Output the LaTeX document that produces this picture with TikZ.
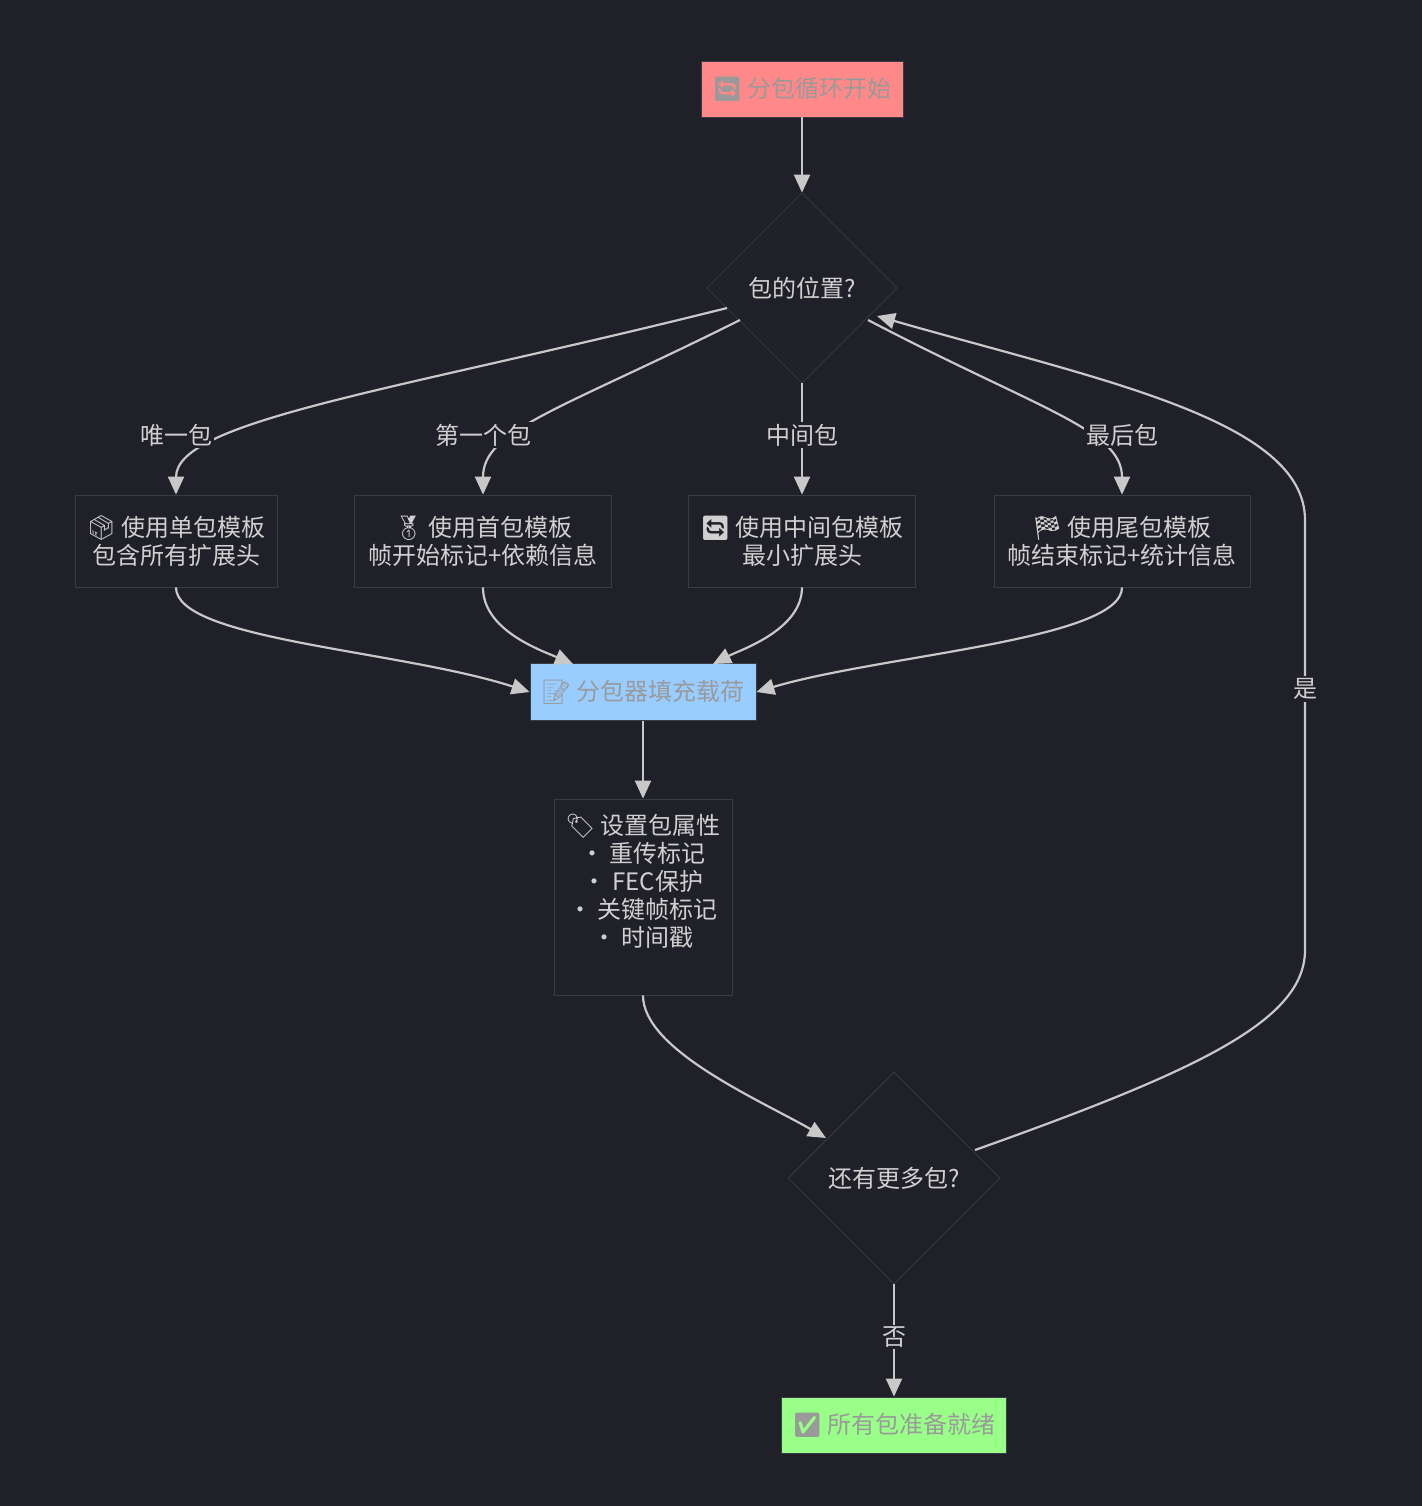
\documentclass[tikz,border=0pt]{standalone}
\usepackage{fontspec}
\setmainfont{Noto Sans CJK SC}
\newfontfamily\emoji{Noto Emoji}
\usetikzlibrary{arrows.meta,shapes.geometric}
\definecolor{bg}{HTML}{1F2028}
\definecolor{bd}{HTML}{3A3C44}
\definecolor{ln}{HTML}{C8C8C8}
\definecolor{tx}{HTML}{D0D0D0}
\definecolor{ctx}{HTML}{9A9A9A}
\tikzset{
 box/.style={draw=bd,fill=bg,text=tx,align=center,inner sep=0pt,font=\fontsize{12}{14}\selectfont},
 cbox/.style={draw=bd,text=ctx,align=center,inner sep=0pt,font=\fontsize{12}{14}\selectfont},
 dia/.style={diamond,draw=bd,fill=bg,text=tx,inner sep=0pt,font=\fontsize{12}{14}\selectfont},
 conn/.style={draw=ln,line width=1.1pt,-{Triangle[length=9pt,width=8pt]}},
 lab/.style={fill=bg,text=tx,inner sep=1pt,font=\fontsize{12}{14}\selectfont},
}
\begin{document}
\begin{tikzpicture}[x=0.5pt,y=-0.5pt]
\fill[bg] (0,0) rectangle (1422,1506);
\useasboundingbox (0,0) rectangle (1422,1506);
\node[cbox,fill={rgb,255:red,255;green,136;blue,136},minimum width=101pt,minimum height=28pt] (s) at (802,89) {{\emoji 🔄} 分包循环开始};
\node[dia,minimum width=95pt,minimum height=95pt] (d1) at (802,288) {包的位置?};
\node[box,minimum width=101pt,minimum height=46pt] (b1) at (176,541) {{\emoji 📦} 使用单包模板\\包含所有扩展头};
\node[box,minimum width=128.5pt,minimum height=46pt] (b2) at (483,541) {{\emoji 🥇} 使用首包模板\\帧开始标记+依赖信息};
\node[box,minimum width=113.5pt,minimum height=46pt] (b3) at (802,541) {{\emoji 🔄} 使用中间包模板\\最小扩展头};
\node[box,minimum width=128pt,minimum height=46pt] (b4) at (1122,541) {{\emoji 🏁} 使用尾包模板\\帧结束标记+统计信息};
\node[cbox,fill={rgb,255:red,153;green,204;blue,255},minimum width=113pt,minimum height=28.5pt] (f) at (643,692) {{\emoji 📝} 分包器填充载荷};
\node[box,minimum width=89pt,minimum height=98pt] (a) at (643,897) {};
\node[text=tx,align=center,font=\fontsize{12}{14}\selectfont,anchor=north] (at) at (643,807) {{\emoji 🏷} 设置包属性\\• 重传标记\\• FEC保护\\• 关键帧标记\\• 时间戳};
\node[dia,minimum width=106pt,minimum height=106pt] (d2) at (894,1178) {还有更多包?};
\node[cbox,fill={rgb,255:red,153;green,255;blue,136},minimum width=112.5pt,minimum height=28pt] (e) at (894,1425) {{\emoji ✅} 所有包准备就绪};
\coordinate (y1) at (1305,950);
\coordinate (y2) at (1305,520);
\draw[conn] (s) -- (d1.north);
\draw[conn] (727,308) .. controls (400,390) and (176,420) .. (b1.north);
\draw[conn] (740,320) .. controls (560,410) and (483,430) .. (b2.north);
\draw[conn] (d1.south) -- (b3.north);
\draw[conn] (868,320) .. controls (1040,410) and (1122,430) .. (b4.north);
\node[lab] at (176,435) {唯一包};
\node[lab] at (483,435) {第一个包};
\node[lab] at (802,435) {中间包};
\node[lab] at (1122,435) {最后包};
\draw[conn] (b1.south) .. controls (176,640) and (400,650) .. (f.west);
\draw[conn] (b2.south) .. controls (483,630) and (540,650) .. (573,664);
\draw[conn] (b3.south) .. controls (802,630) and (740,650) .. (713,664);
\draw[conn] (b4.south) .. controls (1122,640) and (880,655) .. (f.east);
\draw[conn] (f) -- (a);
\draw[conn] (a.south) .. controls (643,1050) and (760,1100) .. (826,1138);
\draw[conn] (975,1150) .. controls (1200,1070) and (1305,1020) .. (y1) -- (y2) .. controls (1305,420) and (1100,380) .. (877,316);
\node[lab] at (1305,689) {是};
\draw[conn] (d2.south) -- (e.north);
\node[lab] at (894,1337) {否};
\end{tikzpicture}
\end{document}
